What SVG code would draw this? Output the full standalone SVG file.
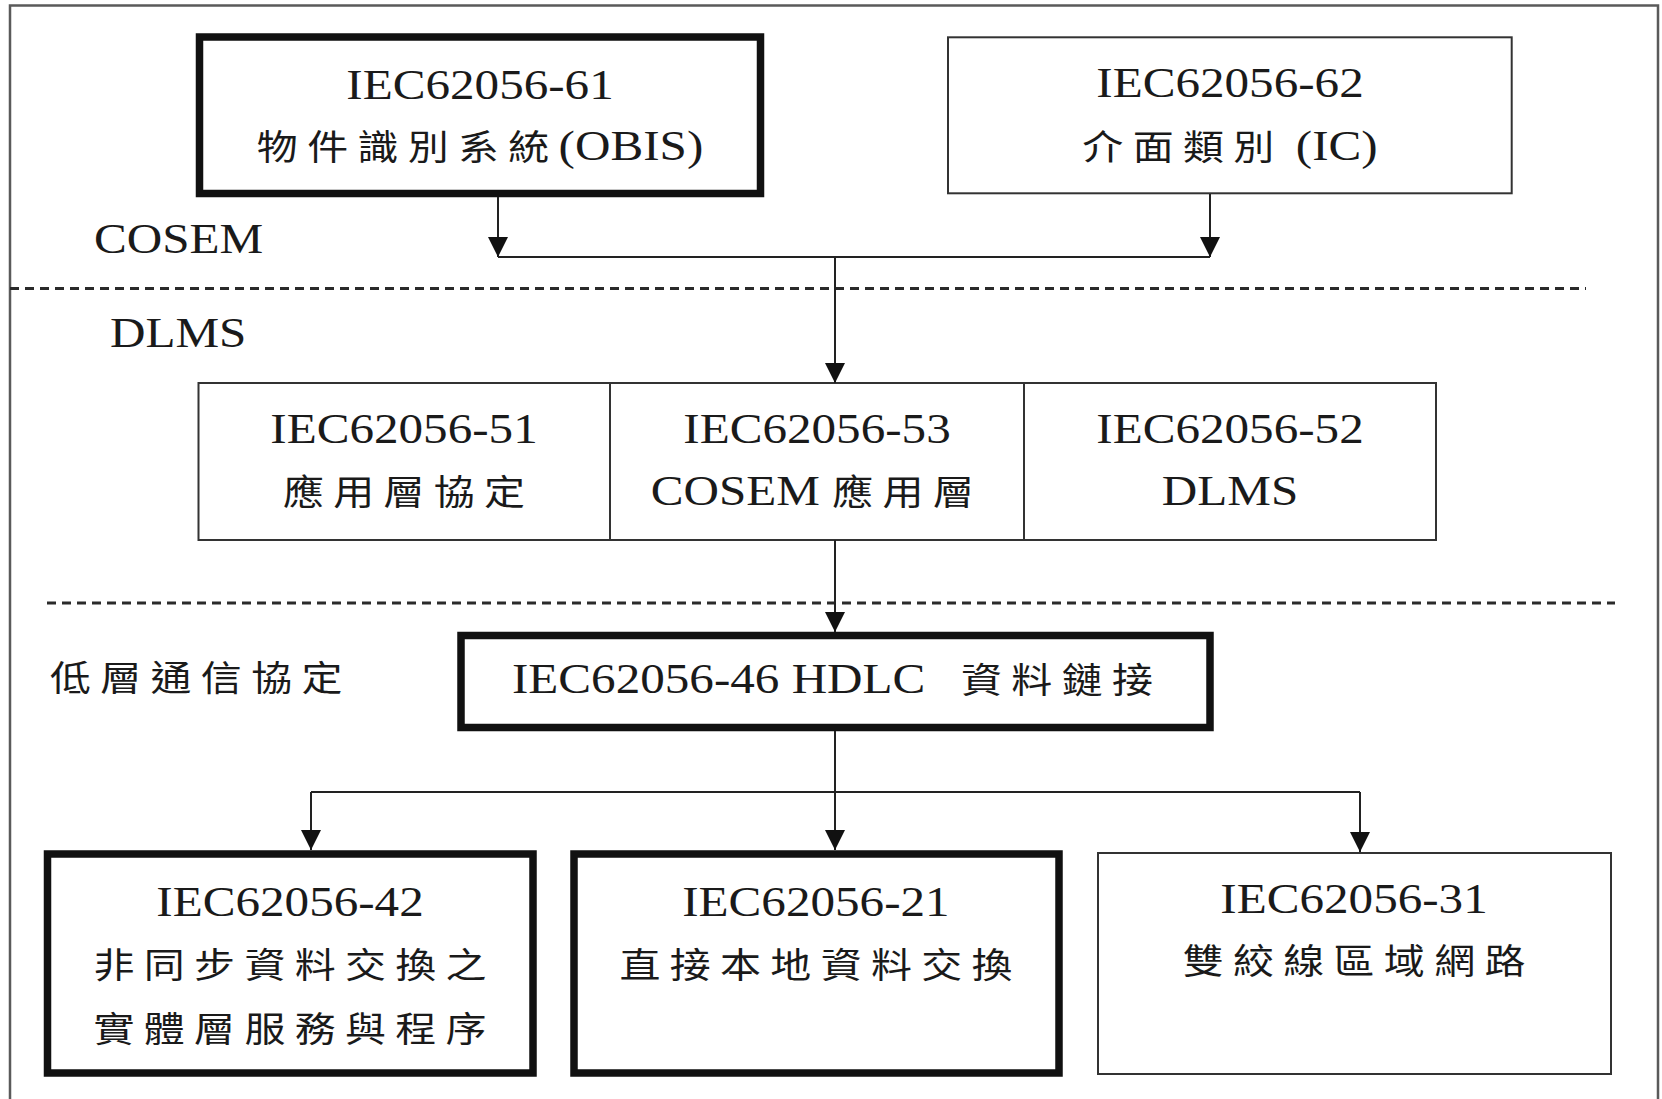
<svg xmlns="http://www.w3.org/2000/svg" width="1662" height="1099" viewBox="0 0 1662 1099">
  <style>
    .bg { fill: #ffffff; }
    .frame { fill: none; stroke: #5a5a5a; stroke-width: 2.5; }
    .thick { fill: #ffffff; stroke: #111111; stroke-width: 7.5; }
    .thin { fill: #ffffff; stroke: #333333; stroke-width: 2; }
    .link { fill: none; stroke: #222222; stroke-width: 2; }
    .dash { fill: none; stroke: #2a2a2a; stroke-width: 3; stroke-dasharray: 9 6; }
    text { font-family: "Liberation Serif", "Times New Roman", "Noto Sans CJK TC", serif; font-size: 42px; fill: #1a1a1a; }
    .mid { text-anchor: middle; }
    .cjk { font-family: "Noto Sans CJK TC", "Noto Sans CJK SC", sans-serif; font-size: 35px; letter-spacing: 8px; }
  </style>
  <defs>
    <marker id="arrow" markerUnits="userSpaceOnUse" viewBox="0 0 20 20" markerWidth="20" markerHeight="20" refX="20" refY="10" orient="auto">
      <path d="M0,0 L20,10 L0,20 z" fill="#111111"/>
    </marker>
  </defs>

  <rect class="bg" x="0" y="0" width="1662" height="1099"/>
  <!-- outer frame -->
  <path class="frame" d="M10,1099 V5.5 H1658 V1099"/>

  <!-- layer separators -->
  <line class="dash" x1="10" y1="288.5" x2="1586" y2="288.5"/>
  <line class="dash" x1="47" y1="603" x2="1615" y2="603"/>

  <!-- layer labels (text scaled horizontally to the serif face width used throughout) -->
  <g id="label-cosem" transform="scale(1.17 1)">
    <text x="80.3" y="253">COSEM</text>
  </g>
  <g id="label-dlms" transform="scale(1.17 1)">
    <text x="94" y="347">DLMS</text>
  </g>
  <g id="label-lower" transform="scale(1.17 1)">
    <text x="42.7" y="691"><tspan class="cjk">低層通信協定</tspan></text>
  </g>

  <!-- COSEM layer -->
  <g id="node-61">
    <rect class="thick" x="199.5" y="37" width="561" height="156.5"/>
    <g transform="scale(1.17 1)">
      <text class="mid" x="410.3" y="99">IEC62056-61</text>
      <text class="mid" x="410.3" y="160"><tspan class="cjk">物件識別系統</tspan>(OBIS)</text>
    </g>
  </g>
  <g id="node-62">
    <rect class="thin" x="948" y="37.3" width="563.7" height="156"/>
    <g transform="scale(1.17 1)">
      <text class="mid" x="1051.3" y="97">IEC62056-62</text>
      <text class="mid" x="1051.3" y="160"><tspan class="cjk">介面類別</tspan> (IC)</text>
    </g>
  </g>

  <!-- DLMS layer: three adjoining cells -->
  <g id="node-51">
    <rect class="thin" x="198.5" y="383" width="411.5" height="157"/>
    <g transform="scale(1.17 1)">
      <text class="mid" x="345.3" y="443">IEC62056-51</text>
      <text class="mid" x="349.3" y="505"><tspan class="cjk">應用層協定</tspan></text>
    </g>
  </g>
  <g id="node-53">
    <rect class="thin" x="610" y="383" width="414" height="157"/>
    <g transform="scale(1.17 1)">
      <text class="mid" x="698.3" y="443">IEC62056-53</text>
      <text class="mid" x="698.3" y="505">COSEM <tspan class="cjk">應用層</tspan></text>
    </g>
  </g>
  <g id="node-52">
    <rect class="thin" x="1024" y="383" width="412" height="157"/>
    <g transform="scale(1.17 1)">
      <text class="mid" x="1051.3" y="443">IEC62056-52</text>
      <text class="mid" x="1051.3" y="505">DLMS</text>
    </g>
  </g>

  <!-- lower communication layer -->
  <g id="node-46">
    <rect class="thick" x="461" y="635.5" width="749" height="92"/>
    <g transform="scale(1.17 1)">
      <text x="437.6" y="693">IEC62056-46 HDLC <tspan class="cjk" dx="20">資料鏈接</tspan></text>
    </g>
  </g>
  <g id="node-42">
    <rect class="thick" x="47.5" y="854" width="485.5" height="219"/>
    <g transform="scale(1.17 1)">
      <text class="mid" x="247.9" y="916">IEC62056-42</text>
      <text class="mid" x="251.9" y="978"><tspan class="cjk">非同步資料交換之</tspan></text>
      <text class="mid" x="251.9" y="1042"><tspan class="cjk">實體層服務與程序</tspan></text>
    </g>
  </g>
  <g id="node-21">
    <rect class="thick" x="574" y="854" width="485" height="219"/>
    <g transform="scale(1.17 1)">
      <text class="mid" x="697.4" y="916">IEC62056-21</text>
      <text class="mid" x="701.4" y="978"><tspan class="cjk">直接本地資料交換</tspan></text>
    </g>
  </g>
  <g id="node-31">
    <rect class="thin" x="1098" y="853" width="513" height="221"/>
    <g transform="scale(1.17 1)">
      <text class="mid" x="1157.3" y="913">IEC62056-31</text>
      <text class="mid" x="1161.3" y="974"><tspan class="cjk">雙絞線區域網路</tspan></text>
    </g>
  </g>

  <!-- connectors -->
  <g id="connectors">
    <line class="link" x1="498" y1="197" x2="498" y2="257" marker-end="url(#arrow)"/>
    <line class="link" x1="1210" y1="194" x2="1210" y2="257" marker-end="url(#arrow)"/>
    <line class="link" x1="498" y1="257" x2="1210" y2="257"/>
    <line class="link" x1="835" y1="257" x2="835" y2="383" marker-end="url(#arrow)"/>
    <line class="link" x1="835" y1="540" x2="835" y2="632" marker-end="url(#arrow)"/>
    <line class="link" x1="835" y1="731" x2="835" y2="850" marker-end="url(#arrow)"/>
    <line class="link" x1="311" y1="792" x2="1360" y2="792"/>
    <line class="link" x1="311" y1="792" x2="311" y2="850" marker-end="url(#arrow)"/>
    <line class="link" x1="1360" y1="792" x2="1360" y2="852" marker-end="url(#arrow)"/>
  </g>
</svg>
